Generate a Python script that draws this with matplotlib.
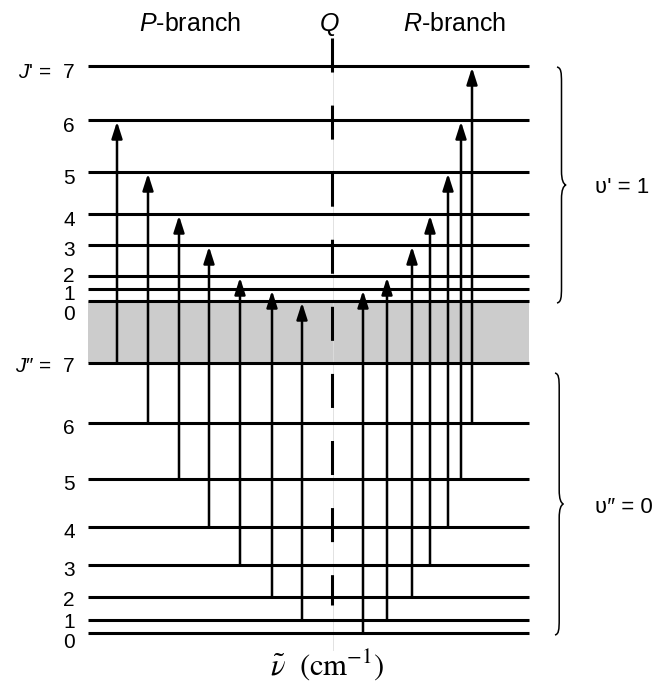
"""Rotational-vibrational transitions: P and R branches (energy level diagram)."""
import matplotlib
matplotlib.use('Agg')
import matplotlib.pyplot as plt
from matplotlib.patches import FancyArrowPatch, PathPatch
from matplotlib.path import Path

# Level energies (arbitrary diagram units), J = 0..7
lower_E = [0, 13, 36, 68, 106, 154, 210, 270]      # v'' = 0
upper_E = [332, 344, 357, 388, 419, 461, 513, 567]  # v' = 1
J_vals = [0, 1, 2, 3, 4, 5, 6, 7]

# Transition positions along the wavenumber axis
p_branch_x = [302, 272, 240, 209, 179, 148, 117]   # J'' = 1..7  ->  J' = J'' - 1
r_branch_x = [363, 387, 412, 430, 448, 461, 472]   # J'' = 0..6  ->  J' = J'' + 1
q_x = 332

plt.rcParams['font.family'] = ['Liberation Sans', 'DejaVu Sans']
plt.rcParams['mathtext.fontset'] = 'custom'
plt.rcParams['mathtext.rm'] = 'Liberation Sans'
plt.rcParams['mathtext.it'] = 'Liberation Sans:italic'
plt.rcParams['lines.scale_dashes'] = False

fig = plt.figure(figsize=(6.6, 6.87), dpi=100)
ax = fig.add_axes([0, 0, 1, 1])
ax.set_xlim(0, 660)
ax.set_ylim(-54, 633)
ax.axis('off')

x_left, x_right = 88, 529

# gray band between the two vibrational manifolds
ax.fill_between([x_left, x_right], lower_E[-1], upper_E[0], color='#cccccc', lw=0, zorder=0)

# level lines
for e in lower_E + upper_E:
    ax.plot([x_left, x_right], [e, e], color='black', lw=2.2, solid_capstyle='butt', zorder=2)

# Q line (dashed, with faint guide)
ax.plot([q_x + 1, q_x + 1], [595, -17], color='#dddddd', lw=0.6, zorder=1)
ax.plot([q_x, q_x], [595, 28], color='black', lw=2.2, linestyle=(0, (24.5, 23.8)),
        solid_capstyle='butt', dash_capstyle='butt', zorder=3)


def transition(x, e_from, e_to):
    arr = FancyArrowPatch((x, e_from), (x, e_to),
                          arrowstyle='-|>,head_length=10,head_width=3.2',
                          color='black', lw=1.8, shrinkA=0, shrinkB=0,
                          mutation_scale=1, zorder=4)
    ax.add_patch(arr)


for i, x in enumerate(p_branch_x):
    j = i + 1
    transition(x, lower_E[j], upper_E[j - 1] - 1.5)
for j, x in enumerate(r_branch_x):
    transition(x, lower_E[j], upper_E[j + 1] - 1.5)

# left-hand J labels (pixel nudges for crowded levels)
upper_nudge = {0: 11, 1: 4, 2: -2}
lower_nudge = {0: 8, 1: 0, 2: 1, 7: 1}
for j in J_vals:
    txt = str(j)
    if j == 7:
        txt = r"$\mathit{J}$' =  7"
    ax.text(75, upper_E[j] - upper_nudge.get(j, 4) - 7.5, txt, ha='right', va='baseline', fontsize=15)
    txt = str(j)
    if j == 7:
        txt = "$\\mathit{J}$\u2033 =  7"
    ax.text(75, lower_E[j] - lower_nudge.get(j, 3) - 7.5, txt, ha='right', va='baseline', fontsize=15)

# branch headings
ax.text(190, 602, r"$\mathit{P}$-branch", ha='center', va='baseline', fontsize=18)
ax.text(329, 602, r"$\mathit{Q}$", ha='center', va='baseline', fontsize=18)
ax.text(455, 602, r"$\mathit{R}$-branch", ha='center', va='baseline', fontsize=18)


def brace(x, e_top, e_bot, w):
    e_mid = (e_top + e_bot) / 2
    verts = [
        (x, e_top),
        (x + w * 0.9, e_top - 1), (x + w, e_top - 5), (x + w, e_top - 16),
        (x + w, e_mid + 14),
        (x + w, e_mid + 5), (x + w * 1.4, e_mid + 1), (x + 2 * w, e_mid),
        (x + w * 1.4, e_mid - 1), (x + w, e_mid - 5), (x + w, e_mid - 14),
        (x + w, e_bot + 16),
        (x + w, e_bot + 5), (x + w * 0.9, e_bot + 1), (x, e_bot),
    ]
    codes = [Path.MOVETO] + [Path.CURVE4] * 3 + [Path.LINETO] + [Path.CURVE4] * 6 \
        + [Path.LINETO] + [Path.CURVE4] * 3
    ax.add_patch(PathPatch(Path(verts, codes), fill=False, color='black', lw=1.1))


brace(557, upper_E[-1] - 1, upper_E[0] - 2, 4.5)
brace(555, lower_E[-1] - 10, lower_E[0] - 2, 4.2)

ax.text(595, 440, "\u028b' = 1", ha='left', va='baseline', fontsize=16)
ax.text(595, 120, "\u028b\u2033 = 0", ha='left', va='baseline', fontsize=16)

# wavenumber axis label
ax.text(327, -32, r'$\tilde{\nu}\ \ (\mathrm{cm}^{-1})$', ha='center', va='center',
        fontsize=22, math_fontfamily='stix')

plt.savefig('out.png', dpi=100)
plt.close()
